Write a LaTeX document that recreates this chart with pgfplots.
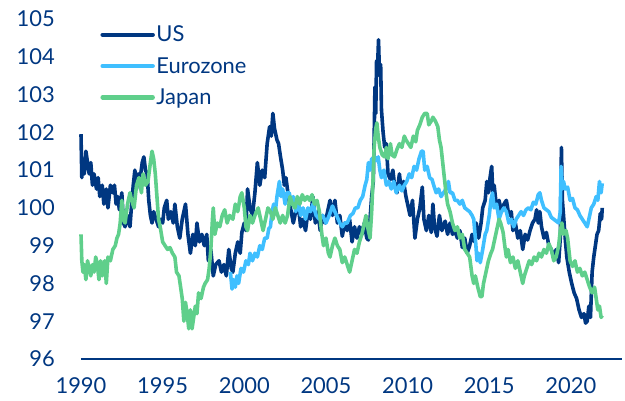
\documentclass[border=0pt]{standalone}
\usepackage{fontspec}
\setmainfont{Lato}
\usepackage{pgfplots}
\pgfplotsset{compat=1.18}
\definecolor{navy}{HTML}{003781}
\definecolor{lblue}{HTML}{3FBFFF}
\definecolor{lgreen}{HTML}{5FCF8B}
\begin{document}
\begin{tikzpicture}
\path[use as bounding box] (-81bp,-42bp) rectangle (544bp,359bp);
\begin{axis}[
  at={(0,0)}, anchor=south west,
  scale only axis, width=541bp, height=340bp,
  xmin=1990, xmax=2023.13, ymin=96, ymax=105,
  xtick={1990,1995,...,2020}, ytick={96,97,...,105},
  /pgf/number format/assume math mode=true,
  /pgf/number format/1000 sep={},
  major tick length=0pt, tick style={draw=none},
  axis x line*=bottom, axis y line*=left,
  y axis line style={draw=none},
  x axis line style={-, draw=navy, line width=2bp},
  tick label style={font=\fontsize{22}{24}\selectfont, text=navy},
  yticklabel style={anchor=east, inner sep=0pt, xshift=-26bp},
  xticklabel style={anchor=north, inner sep=0pt, yshift=-18bp},
  clip=false,
  legend cell align=left,
  legend style={at={(rel axis cs:0.03,0.99)}, anchor=north west, draw=none, fill=none,
    font=\fontsize{22}{24}\selectfont\color{navy}, row sep=11bp,
    nodes={inner sep=1.5bp}},
  legend image code/.code={\draw[#1, line width=4.5bp, line cap=round] (0bp,0bp) -- (50bp,0bp);},
  every axis plot/.append style={line width=3.6bp, line join=round},
]
\addplot[navy] table {
x y
1990.00 101.95
1990.05 100.8
1990.12 101.3
1990.2 100.9
1990.3 101.5
1990.4 101.2
1990.5 100.9
1990.6 101.2
1990.7 100.6
1990.8 100.9
1990.95 100.5
1991.05 100.8
1991.15 100.3
1991.3 100.6
1991.4 100.1
1991.55 100.5
1991.65 100.0
1991.8 100.6
1991.95 100.4
1992.05 100.6
1992.15 100.1
1992.25 100.3
1992.35 99.95
1992.5 100.4
1992.6 99.6
1992.7 99.5
1992.85 99.8
1993.0 99.5
1993.1 100.1
1993.2 100.6
1993.3 101.0
1993.4 100.5
1993.5 100.9
1993.6 100.7
1993.75 101.2
1993.85 101.35
1993.95 101.0
1994.05 100.9
1994.15 100.2
1994.25 99.8
1994.35 99.6
1994.45 99.9
1994.6 99.7
1994.75 99.5
1994.85 99.7
1995.0 99.6
1995.1 100.0
1995.25 100.2
1995.35 99.7
1995.5 99.9
1995.65 99.6
1995.75 100.1
1995.9 99.5
1996.05 99.2
1996.2 99.7
1996.4 100.1
1996.55 99.3
1996.7 98.8
1996.85 99.3
1997.0 99.0
1997.1 99.6
1997.25 99.1
1997.4 99.3
1997.55 99.0
1997.7 99.3
1997.8 98.6
1997.95 98.9
1998.1 98.2
1998.25 98.5
1998.45 98.6
1998.6 98.3
1998.75 98.5
1998.9 98.2
1999.05 98.9
1999.2 98.4
1999.3 98.3
1999.45 98.8
1999.6 99.1
1999.75 98.8
1999.85 99.35
2000.0 99.6
2000.1 99.4
2000.2 100.5
2000.35 100.0
2000.5 99.8
2000.65 100.4
2000.8 101.2
2000.95 100.6
2001.1 101.0
2001.25 100.8
2001.4 101.7
2001.55 102.15
2001.65 101.9
2001.75 102.5
2001.85 102.1
2002.0 101.8
2002.1 101.7
2002.2 101.4
2002.35 101.0
2002.45 100.6
2002.55 100.8
2002.7 100.3
2002.85 99.95
2003.0 99.6
2003.15 99.9
2003.3 100.1
2003.45 99.5
2003.6 99.7
2003.75 99.4
2003.9 99.9
2004.05 99.7
2004.2 100.3
2004.35 99.6
2004.5 99.9
2004.65 99.4
2004.8 99.8
2004.95 99.6
2005.1 99.9
2005.25 100.2
2005.4 99.8
2005.55 100.2
2005.7 99.6
2005.85 99.8
2006.0 99.25
2006.15 99.6
2006.3 99.4
2006.45 99.7
2006.6 99.1
2006.75 99.5
2006.9 99.2
2007.05 99.5
2007.2 99.3
2007.35 99.6
2007.5 99.2
2007.6 99.15
2007.7 99.7
2007.8 100.3
2007.9 100.7
2007.95 101.8
2008.0 103.2
2008.05 102.5
2008.1 103.9
2008.15 103.6
2008.22 104.45
2008.28 103.5
2008.35 103.8
2008.4 102.6
2008.5 102.0
2008.6 101.6
2008.7 101.7
2008.8 100.9
2008.95 100.75
2009.1 101.0
2009.2 100.6
2009.35 100.4
2009.5 100.9
2009.6 100.5
2009.75 100.7
2009.9 100.3
2010.0 100.1
2010.15 99.8
2010.3 100.2
2010.45 99.2
2010.6 99.7
2010.75 100.0
2010.9 100.55
2011.0 99.7
2011.15 99.4
2011.3 99.8
2011.45 99.35
2011.55 100.1
2011.65 99.5
2011.8 99.25
2011.95 99.8
2012.1 99.4
2012.3 99.65
2012.45 99.3
2012.6 99.6
2012.75 99.3
2012.9 99.4
2013.05 99.2
2013.2 99.4
2013.35 98.95
2013.5 99.2
2013.65 98.8
2013.8 99.0
2013.95 99.3
2014.1 99.1
2014.2 99.6
2014.35 99.2
2014.5 99.6
2014.6 100.0
2014.75 100.2
2014.85 100.7
2014.95 100.4
2015.05 100.8
2015.15 101.1
2015.22 100.4
2015.3 100.6
2015.45 100.0
2015.6 100.2
2015.75 99.9
2015.9 100.1
2016.05 100.2
2016.2 99.8
2016.35 99.9
2016.45 99.4
2016.6 99.6
2016.75 99.2
2016.9 99.4
2017.05 98.9
2017.2 99.3
2017.35 99.15
2017.5 99.4
2017.65 99.6
2017.8 99.7
2017.9 99.95
2018.0 99.6
2018.1 99.9
2018.2 99.5
2018.35 99.2
2018.5 99.35
2018.65 99.0
2018.8 98.9
2018.95 98.7
2019.1 98.9
2019.25 98.55
2019.35 99.2
2019.42 101.6
2019.48 100.2
2019.55 99.8
2019.65 99.2
2019.75 98.7
2019.9 98.3
2020.05 98.0
2020.2 97.75
2020.35 97.6
2020.5 97.3
2020.65 97.1
2020.8 97.2
2020.9 96.95
2021.0 97.0
2021.1 97.4
2021.2 97.1
2021.3 98.3
2021.4 98.7
2021.5 99.0
2021.6 99.3
2021.7 99.4
2021.8 99.85
2021.88 99.7
2021.92 100.0
};
\addlegendentry{US}
\addplot[lblue] table {
x y
1999.15 98.3
1999.25 97.85
1999.35 98.1
1999.45 97.9
1999.55 98.2
1999.65 98.0
1999.8 98.4
1999.95 98.3
2000.1 98.6
2000.25 98.5
2000.35 98.8
2000.5 98.6
2000.65 98.8
2000.8 98.7
2000.95 99.0
2001.1 98.9
2001.25 99.2
2001.4 99.2
2001.5 99.45
2001.6 99.5
2001.7 99.9
2001.8 100.1
2001.9 99.9
2002.0 100.3
2002.15 100.7
2002.25 100.3
2002.35 100.5
2002.5 100.1
2002.6 100.4
2002.75 100.4
2002.9 100.1
2003.0 100.3
2003.15 99.9
2003.3 100.2
2003.45 99.8
2003.6 100.0
2003.75 99.7
2003.9 100.0
2004.05 99.9
2004.2 100.1
2004.4 99.8
2004.6 99.7
2004.8 99.8
2005.0 99.6
2005.2 99.8
2005.4 100.05
2005.55 99.9
2005.7 99.75
2005.85 99.6
2006.0 99.5
2006.15 99.6
2006.3 99.6
2006.5 99.8
2006.65 99.85
2006.8 100.0
2006.95 100.0
2007.1 100.2
2007.25 100.3
2007.4 100.6
2007.5 100.75
2007.6 101.2
2007.7 101.0
2007.8 101.3
2007.9 101.2
2008.0 101.35
2008.1 101.25
2008.2 101.35
2008.3 101.0
2008.4 100.8
2008.55 101.0
2008.7 100.6
2008.85 100.7
2009.0 100.5
2009.15 100.7
2009.3 100.4
2009.5 100.6
2009.65 100.45
2009.8 100.6
2009.95 100.7
2010.1 100.9
2010.25 100.8
2010.4 101.1
2010.55 101.0
2010.7 101.3
2010.85 101.5
2010.95 101.5
2011.05 101.0
2011.2 101.1
2011.35 100.8
2011.5 100.75
2011.6 100.6
2011.75 100.4
2011.9 100.5
2012.05 100.3
2012.2 100.4
2012.35 100.5
2012.5 100.7
2012.6 100.4
2012.75 100.4
2012.9 100.2
2013.05 100.2
2013.2 100.1
2013.35 100.2
2013.5 100.0
2013.65 99.95
2013.8 99.9
2013.95 99.8
2014.05 99.7
2014.15 99.2
2014.25 98.6
2014.35 98.8
2014.45 98.55
2014.6 98.9
2014.75 99.3
2014.85 99.4
2015.0 99.8
2015.1 100.2
2015.2 100.4
2015.3 100.0
2015.45 100.1
2015.6 99.7
2015.75 99.9
2015.9 100.0
2016.05 99.9
2016.2 99.6
2016.35 99.7
2016.5 99.5
2016.65 99.7
2016.8 99.8
2016.95 99.9
2017.1 99.8
2017.25 99.95
2017.4 100.0
2017.55 99.95
2017.7 100.15
2017.85 100.1
2018.0 100.35
2018.1 100.4
2018.2 100.2
2018.35 100.0
2018.5 99.95
2018.65 99.9
2018.8 99.75
2018.95 99.7
2019.1 99.65
2019.25 99.6
2019.35 99.9
2019.4 101.1
2019.48 100.5
2019.55 100.7
2019.65 100.5
2019.8 100.55
2019.95 100.2
2020.1 100.25
2020.25 100.0
2020.4 99.95
2020.55 99.8
2020.7 99.7
2020.85 99.6
2021.0 99.5
2021.1 99.7
2021.25 100.0
2021.4 100.1
2021.55 100.3
2021.65 100.2
2021.75 100.7
2021.85 100.4
2021.92 100.65
};
\addlegendentry{Eurozone}
\addplot[lgreen] table {
x y
1990.0 99.3
1990.05 98.6
1990.12 98.3
1990.2 98.5
1990.3 98.1
1990.4 98.6
1990.5 98.4
1990.6 98.2
1990.7 98.5
1990.8 98.3
1990.9 98.7
1991.0 98.5
1991.1 98.1
1991.2 98.6
1991.3 98.2
1991.45 98.6
1991.55 98.0
1991.65 98.7
1991.8 98.6
1991.95 98.9
1992.1 99.0
1992.2 99.2
1992.3 99.3
1992.4 99.6
1992.5 100.2
1992.6 99.7
1992.7 99.6
1992.85 100.1
1993.0 100.4
1993.1 100.2
1993.25 100.0
1993.4 100.6
1993.55 100.8
1993.7 100.4
1993.8 100.9
1993.95 100.6
1994.1 100.7
1994.25 101.2
1994.35 101.5
1994.45 101.3
1994.55 100.9
1994.65 100.3
1994.75 99.7
1994.85 99.5
1995.0 99.1
1995.15 99.0
1995.3 98.9
1995.45 98.95
1995.6 98.8
1995.75 98.7
1995.85 98.3
1996.0 98.2
1996.1 97.9
1996.2 97.6
1996.3 97.0
1996.4 97.5
1996.5 97.2
1996.6 96.8
1996.7 97.3
1996.8 96.8
1996.9 97.1
1997.0 97.4
1997.1 97.2
1997.2 97.75
1997.35 97.6
1997.5 97.9
1997.6 98.0
1997.75 98.1
1997.85 98.4
1997.95 98.9
1998.05 99.7
1998.1 100.0
1998.2 99.3
1998.35 99.6
1998.5 99.5
1998.65 99.8
1998.8 99.95
1998.95 99.6
1999.1 99.8
1999.3 99.7
1999.45 100.1
1999.6 99.9
1999.75 100.3
1999.85 100.4
2000.0 100.0
2000.1 99.5
2000.2 99.4
2000.35 99.8
2000.5 99.6
2000.65 99.8
2000.85 100.0
2001.0 99.7
2001.15 99.4
2001.3 99.7
2001.45 100.0
2001.6 99.9
2001.75 99.7
2001.9 100.0
2002.05 99.8
2002.2 99.6
2002.35 99.8
2002.5 99.6
2002.65 99.8
2002.8 100.3
2002.95 100.1
2003.1 100.0
2003.25 100.3
2003.4 100.1
2003.55 100.35
2003.7 100.2
2003.85 100.3
2004.0 100.2
2004.15 100.35
2004.3 100.1
2004.45 100.2
2004.6 99.9
2004.75 99.3
2004.85 99.0
2005.0 99.2
2005.15 98.8
2005.25 98.7
2005.4 99.0
2005.55 99.2
2005.7 99.0
2005.85 98.9
2006.0 98.55
2006.15 98.7
2006.3 98.5
2006.45 98.3
2006.6 98.6
2006.75 98.9
2006.9 98.8
2007.05 99.1
2007.2 99.3
2007.35 99.6
2007.45 99.8
2007.55 99.5
2007.7 99.2
2007.8 99.9
2007.88 100.7
2007.95 101.6
2008.05 102.1
2008.12 102.25
2008.2 101.9
2008.3 101.6
2008.45 101.4
2008.6 101.35
2008.7 101.6
2008.8 101.3
2008.95 101.7
2009.05 101.4
2009.2 101.35
2009.35 101.55
2009.5 101.7
2009.65 101.6
2009.8 101.9
2009.9 101.8
2010.05 101.7
2010.2 101.6
2010.35 101.9
2010.5 101.75
2010.6 102.05
2010.75 102.2
2010.9 102.4
2011.05 102.5
2011.2 102.5
2011.3 102.2
2011.45 102.3
2011.55 102.4
2011.7 102.3
2011.85 102.15
2011.95 101.8
2012.05 101.6
2012.15 101.2
2012.25 100.8
2012.35 100.4
2012.45 100.1
2012.6 99.9
2012.75 99.6
2012.9 99.4
2013.05 99.5
2013.2 99.2
2013.35 99.3
2013.5 98.9
2013.65 98.8
2013.8 98.7
2013.95 98.2
2014.05 98.0
2014.15 98.2
2014.3 97.9
2014.45 97.65
2014.55 97.65
2014.65 98.0
2014.8 98.3
2014.95 98.6
2015.1 98.8
2015.2 98.9
2015.35 99.2
2015.5 99.5
2015.6 99.7
2015.7 99.6
2015.85 99.35
2015.95 99.0
2016.05 98.7
2016.15 98.9
2016.3 98.55
2016.45 98.7
2016.6 98.4
2016.75 98.6
2016.9 98.3
2017.05 98.0
2017.15 98.2
2017.3 98.4
2017.45 98.6
2017.6 98.5
2017.75 98.7
2017.9 98.6
2018.05 98.8
2018.2 98.7
2018.35 98.9
2018.5 98.8
2018.65 99.05
2018.8 98.9
2018.95 98.6
2019.1 98.7
2019.25 99.0
2019.35 99.4
2019.45 99.6
2019.55 99.3
2019.7 99.4
2019.8 99.2
2019.95 98.6
2020.1 98.45
2020.25 98.6
2020.4 98.3
2020.55 98.4
2020.7 98.2
2020.85 98.3
2021.0 98.1
2021.15 97.9
2021.3 97.75
2021.45 97.9
2021.55 97.6
2021.65 97.3
2021.75 97.4
2021.85 97.1
2021.92 97.15
};
\addlegendentry{Japan}
\end{axis}
\end{tikzpicture}
\end{document}
